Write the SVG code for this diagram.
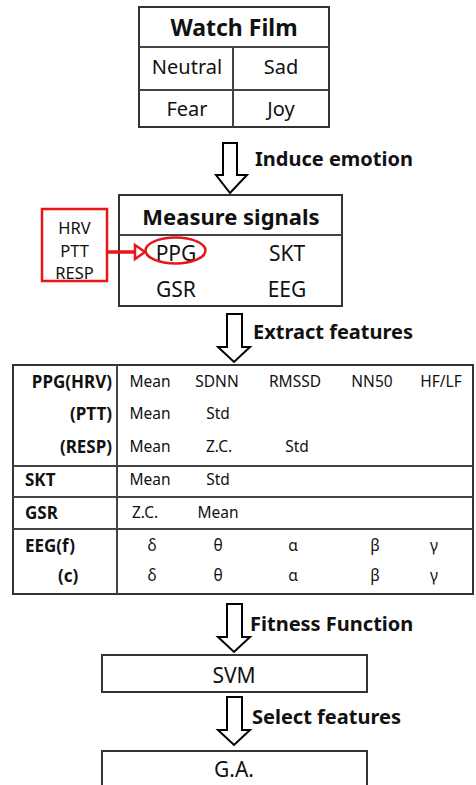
<svg xmlns="http://www.w3.org/2000/svg" width="476" height="785" viewBox="0 0 476 785">
<defs>
<style>
text{font-family:"Noto Sans","Open Sans","DejaVu Sans",sans-serif;fill:#111}
.b{font-weight:bold}
.box{fill:#fff;stroke:#333;stroke-width:2}
.ln{stroke:#444;stroke-width:2;fill:none}
.arr{fill:#fff;stroke:#000;stroke-width:2;stroke-linejoin:miter}
.c{text-anchor:middle}
.r{text-anchor:end}
.v{font-size:15.5px}
.h{font-size:17px;font-weight:bold}
.lab{font-size:20px;font-weight:bold}
.src{font-size:16.5px}
</style>
</defs>
<rect width="476" height="785" fill="#fff"/>

<g id="watch-film">
<rect class="box" x="139" y="7" width="190" height="120"/>
<line class="ln" x1="139" y1="47" x2="329" y2="47"/>
<line class="ln" x1="139" y1="90" x2="329" y2="90"/>
<line class="ln" x1="233" y1="47" x2="233" y2="127"/>
<text class="b c" x="234" y="36" font-size="23">Watch Film</text>
<text class="c" x="187" y="74" font-size="20">Neutral</text>
<text class="c" x="281" y="74" font-size="20">Sad</text>
<text class="c" x="187" y="116" font-size="20">Fear</text>
<text class="c" x="281" y="116" font-size="20">Joy</text>
</g>

<g id="measure-signals">
<rect class="box" x="119" y="195" width="223" height="111"/>
<line class="ln" x1="119" y1="235" x2="342" y2="235"/>
<text class="b c" x="231" y="225" font-size="22">Measure signals</text>
<text class="c" x="176" y="261" font-size="21">PPG</text>
<text class="c" x="287" y="261" font-size="21">SKT</text>
<text class="c" x="176" y="297" font-size="21">GSR</text>
<text class="c" x="287" y="297" font-size="21">EEG</text>
<ellipse cx="175.5" cy="250.5" rx="30" ry="13" fill="none" stroke="#e8161b" stroke-width="2.5"/>
</g>

<g id="ppg-sources">
<rect x="42" y="209" width="65" height="72" fill="#fff" stroke="#e8161b" stroke-width="2.5"/>
<text class="c src" x="74.5" y="234">HRV</text>
<text class="c src" x="74.5" y="256.5">PTT</text>
<text class="c src" x="74.5" y="279">RESP</text>
</g>

<g id="features-table">
<rect class="box" x="13" y="365" width="460" height="229"/>
<line class="ln" x1="117" y1="365" x2="117" y2="594"/>
<line class="ln" x1="13" y1="466" x2="473" y2="466"/>
<line class="ln" x1="13" y1="497" x2="473" y2="497"/>
<line class="ln" x1="13" y1="529" x2="473" y2="529"/>
<text class="h r" x="112" y="388">PPG(HRV)</text>
<text class="h r" x="112" y="420">(PTT)</text>
<text class="h r" x="112" y="453">(RESP)</text>
<text class="h" x="25" y="486">SKT</text>
<text class="h" x="25" y="519">GSR</text>
<text class="h" x="25" y="552">EEG(f)</text>
<text class="h" x="58" y="582">(c)</text>
<text class="v c" x="150" y="387">Mean</text>
<text class="v c" x="217" y="387">SDNN</text>
<text class="v c" x="295" y="387">RMSSD</text>
<text class="v c" x="372" y="387">NN50</text>
<text class="v c" x="441" y="387">HF/LF</text>
<text class="v c" x="150" y="419">Mean</text>
<text class="v c" x="218" y="419">Std</text>
<text class="v c" x="150" y="452">Mean</text>
<text class="v c" x="219" y="452">Z.C.</text>
<text class="v c" x="297" y="452">Std</text>
<text class="v c" x="150" y="485">Mean</text>
<text class="v c" x="218" y="485">Std</text>
<text class="v c" x="145" y="518">Z.C.</text>
<text class="v c" x="218" y="518">Mean</text>
<text class="v c" x="152" y="551">δ</text>
<text class="v c" x="218" y="551">θ</text>
<text class="v c" x="293" y="551">α</text>
<text class="v c" x="375" y="551">β</text>
<text class="v c" x="434" y="551">γ</text>
<text class="v c" x="152" y="581">δ</text>
<text class="v c" x="218" y="581">θ</text>
<text class="v c" x="293" y="581">α</text>
<text class="v c" x="375" y="581">β</text>
<text class="v c" x="434" y="581">γ</text>
</g>

<g id="svm">
<rect class="box" x="102" y="655" width="265" height="37"/>
<text class="c" x="234" y="683" font-size="21">SVM</text>
</g>

<g id="ga">
<rect class="box" x="102" y="751" width="265" height="40"/>
<text class="c" x="234" y="777" font-size="21">G.A.</text>
</g>

<g id="connectors">
<path class="arr" d="M223,143 H237 V175 H247 L230,193 L216,175 H223 Z"/>
<text class="lab" x="255" y="166">Induce emotion</text>
<path class="arr" d="M227,314 H242 V347 H250 L234,362 L218,347 H227 Z"/>
<text class="lab" x="253" y="339">Extract features</text>
<path class="arr" d="M227,604 H242 V637 H250 L234,652 L218,637 H227 Z"/>
<text class="lab" x="250" y="631">Fitness Function</text>
<path class="arr" d="M227,697 H242 V730 H250 L234,745 L218,730 H227 Z"/>
<text class="lab" x="252" y="724">Select features</text>
<line x1="107" y1="252" x2="135" y2="252" stroke="#e8161b" stroke-width="3.5"/>
<path d="M135,245 L145,252 L135,259 Z" fill="#fff" stroke="#e8161b" stroke-width="2.5"/>
</g>
</svg>
